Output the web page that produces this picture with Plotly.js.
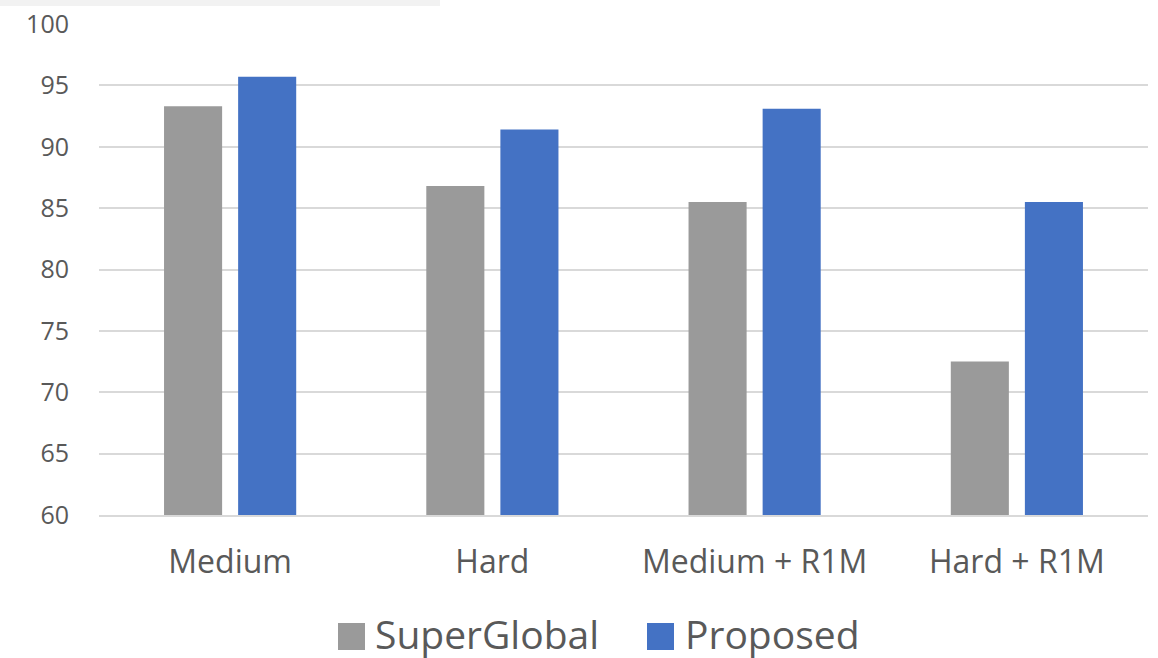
<!DOCTYPE html>
<html>
<head>
<meta charset="utf-8">
<script src="https://cdn.plot.ly/plotly-3.0.1.min.js"></script>
<style>html,body{margin:0;padding:0;background:#fff;}#chart{width:1158px;height:658px;}</style>
</head>
<body>
<div id="chart"></div>
<script>
const categories = ["Medium", "Hard", "Medium + R1M", "Hard + R1M"];
const superGlobal = [93.3, 86.8, 85.5, 72.5];
const proposed = [95.7, 91.4, 93.1, 85.5];
const seriesNames = ["SuperGlobal", "Proposed"];
const seriesColors = ["#9a9a9a", "#4472c4"];
const yTicks = [60, 65, 70, 75, 80, 85, 90, 95, 100];

const W = 1158, H = 658;
const m = {l: 99, r: 10, t: 24, b: 143};
const pw = W - m.l - m.r, ph = H - m.t - m.b;
const px = x => (x - m.l) / pw;
const py = y => (H - m.b - y) / ph;

const traces = [
  {type: "bar", name: seriesNames[0], x: categories, y: superGlobal, marker: {color: seriesColors[0]}, hoverinfo: "x+y"},
  {type: "bar", name: seriesNames[1], x: categories, y: proposed, marker: {color: seriesColors[1]}, hoverinfo: "x+y"}
];

const font = "'Open Sans', sans-serif";
const layout = {
  width: W, height: H,
  margin: m,
  paper_bgcolor: "#ffffff",
  plot_bgcolor: "#ffffff",
  showlegend: false,
  barmode: "group",
  bargap: 0.435,
  bargroupgap: 0.216,
  font: {family: font, color: "#595959"},
  xaxis: {
    type: "category",
    showgrid: false,
    showline: true, linecolor: "#d9d9d9", linewidth: 2,
    ticks: "", ticklabelstandoff: 18,
    tickfont: {family: font, size: 32, color: "#595959"},
    fixedrange: true
  },
  yaxis: {
    range: [60, 100],
    tickvals: yTicks,
    ticktext: yTicks.map(String),
    showgrid: true, gridcolor: "#d9d9d9", gridwidth: 2,
    zeroline: false, showline: false,
    ticks: "", ticklabelstandoff: 29,
    tickfont: {family: font, size: 25, color: "#595959"},
    fixedrange: true
  },
  shapes: [
    {type: "rect", xref: "paper", yref: "paper", x0: px(0), x1: px(440), y0: py(6), y1: py(0), fillcolor: "#f2f2f2", line: {width: 0}, layer: "below"},
    {type: "rect", xref: "paper", yref: "paper", x0: px(338), x1: px(365), y0: py(650), y1: py(623), fillcolor: seriesColors[0], line: {width: 0}},
    {type: "rect", xref: "paper", yref: "paper", x0: px(647), x1: px(674), y0: py(650), y1: py(623), fillcolor: seriesColors[1], line: {width: 0}}
  ],
  annotations: [
    {xref: "paper", yref: "paper", x: px(373), y: py(633), xanchor: "left", yanchor: "middle", showarrow: false, text: seriesNames[0], font: {family: font, size: 39, color: "#595959"}},
    {xref: "paper", yref: "paper", x: px(683), y: py(633), xanchor: "left", yanchor: "middle", showarrow: false, text: seriesNames[1], font: {family: font, size: 39, color: "#595959"}}
  ]
};

Plotly.newPlot("chart", traces, layout, {displayModeBar: false, staticPlot: true});
</script>
</body>
</html>
